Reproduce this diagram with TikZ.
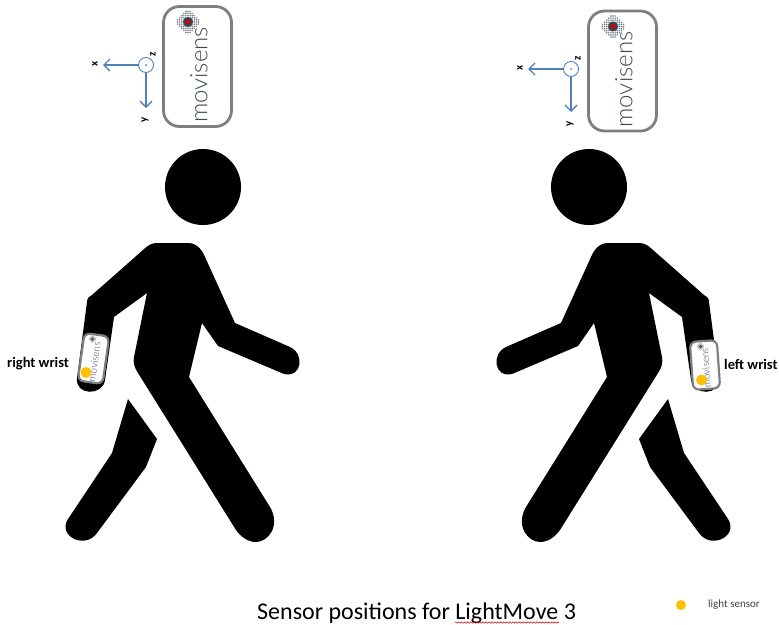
\documentclass[tikz,border=0pt]{standalone}
\usepackage{fontspec}
\setmainfont{Carlito}
\newfontfamily\logofont{Lato Light}
\usetikzlibrary{arrows.meta,decorations.pathmorphing}
\definecolor{axisblue}{HTML}{4F81BD}
\definecolor{sensorgray}{HTML}{7F7F7F}
\definecolor{logotext}{HTML}{3E4A58}
\definecolor{lightdot}{HTML}{FFC000}
\tikzset{
  sensorbox/.style={draw=sensorgray,line width=#1,fill=white,rounded corners=16pt,inner sep=0pt},
  sensorbox/.default=2.8pt,
  logolabel/.style={font=\logofont,text=logotext,inner sep=0pt},
  axisline/.style={draw=axisblue,line width=1.4pt,-{Straight Barb[length=6pt,width=12pt]}},
  axislabel/.style={font=\bfseries\fontsize{11}{11}\selectfont,rotate=90,inner sep=0pt},
  wristlabel/.style={font=\bfseries\fontsize{14.5}{16}\selectfont,inner sep=0pt},
  lightspot/.style={circle,fill=lightdot,inner sep=0pt,minimum size=#1},
  walker/.pic={
    \fill[black] (157,243) -- (188,243) .. controls (197,243) and (202,250) .. (205,257)
      -- (235,323) -- (290,347) .. controls (305,354) and (302,378) .. (284,374)
      -- (218,346) -- (202,323) -- (189,377) -- (270,507)
      .. controls (281,526) and (268,542) .. (256,542) .. controls (248,542) and (241,537) .. (236,530)
      -- (138,373) .. controls (134,367) and (133,362) .. (134,357) -- (147,293) -- (114,317)
      -- (105,380) .. controls (103,396) and (75,396) .. (77,378) -- (87,302)
      .. controls (87,298) and (89,297) .. (92,295) -- (143,250) .. controls (148,245) and (152,243) .. (157,243) -- cycle;
    \fill[black] (128,399) -- (157,439) -- (146,467) -- (97,533)
      .. controls (85,550) and (57,536) .. (68,519) -- (112,453) -- cycle;
  },
  logo/.pic={
    \foreach \i in {-5,...,5}
      \foreach \j in {-5,...,5} {
        \pgfmathtruncatemacro{\dist}{abs(\i)+abs(\j)}
        \ifnum\dist<7
          \fill[logotext!75] (2.1*\i,2.1*\j) circle (0.85);
        \fi
      }
    \fill[logotext!90!black] (0,0) circle (5);
    \fill[red!85!black] (0,0) circle (2.4);
  }
}
\begin{document}
\begin{tikzpicture}[x=1pt,y=-1pt]
\useasboundingbox (0,0) rectangle (779,624);

% left person
\fill[black] (203,187) circle (38);
\pic at (0,0) {walker};
\node[sensorbox,minimum width=68pt,minimum height=120pt] (topleft) at (197.5,66.5) {};
\pic at (188,22) {logo};
\node[logolabel,rotate=90,font=\logofont\fontsize{24}{24}\selectfont] (logoleft) at (199,75) {movisens};

% axes left
\node[draw=axisblue,line width=0.9pt,circle,minimum size=15pt,inner sep=0pt] (zleft) at (146,65) {};
\fill[axisblue] (zleft) circle (1);
\coordinate (xleft) at (103,65);
\coordinate (yleft) at (146,108);
\draw[axisline] (zleft) -- (xleft);
\draw[axisline] (zleft) -- (yleft);
\node[axislabel] (xtextleft) at (95,64) {x};
\node[axislabel] (ytextleft) at (145,120) {y};
\node[axislabel] (ztextleft) at (153,54) {z};

% right person
\fill[black] (589,187) circle (38);
\pic[xscale=-1] at (796,0) {walker};
\node[sensorbox,minimum width=68pt,minimum height=120pt] (topright) at (622.5,71) {};
\pic at (613,26.5) {logo};
\node[logolabel,rotate=90,font=\logofont\fontsize{24}{24}\selectfont] (logoright) at (624,79.5) {movisens};

% axes right
\node[draw=axisblue,line width=0.9pt,circle,minimum size=15pt,inner sep=0pt] (zright) at (571,69) {};
\fill[axisblue] (zright) circle (1);
\coordinate (xright) at (528,69);
\coordinate (yright) at (571,112);
\draw[axisline] (zright) -- (xright);
\draw[axisline] (zright) -- (yright);
\node[axislabel] (xtextright) at (520,68) {x};
\node[axislabel] (ytextright) at (570,124) {y};
\node[axislabel] (ztextright) at (578,58) {z};

% wrist sensors
\node[sensorbox=2.2pt,rounded corners=6pt,minimum width=25pt,minimum height=48pt,rotate=-8] (wristleft) at (93.5,358.5) {};
\pic[scale=0.3] at (92.5,339) {logo};
\node[logolabel,rotate=82,font=\logofont\fontsize{10}{11}\selectfont] (logowristleft) at (94.5,362) {movisens};
\node[lightspot=11pt] (dotleft) at (86,372.5) {};
\node[wristlabel,anchor=west] (labelleft) at (7,364) {right wrist};

\node[sensorbox=2.2pt,rounded corners=6pt,minimum width=27pt,minimum height=48pt,rotate=4] (wristright) at (705,365) {};
\pic[scale=0.3] at (700.5,346.5) {logo};
\node[logolabel,rotate=94,font=\logofont\fontsize{10}{11}\selectfont] (logowristright) at (706,368) {movisens};
\node[lightspot=11pt] (dotright) at (701.5,380) {};
\node[wristlabel,anchor=west] (labelright) at (724,364) {left wrist};

% caption and legend
\node[inner sep=0pt,anchor=west,font=\fontsize{24}{26}\selectfont] (caption) at (257,613) {Sensor positions for LightMove 3};
\coordinate (wavestart) at (455,622.5);
\coordinate (waveend) at (559,622.5);
\draw[red!80!black,line width=0.5pt,decorate,decoration={snake,amplitude=0.7pt,segment length=3pt}] (wavestart) -- (waveend);
\node[lightspot=10pt] (legenddot) at (681,605) {};
\node[inner sep=0pt,anchor=west,text=black!75,font=\fontsize{11}{11}\selectfont] (legendtext) at (708,604.5) {light sensor};
\end{tikzpicture}
\end{document}
